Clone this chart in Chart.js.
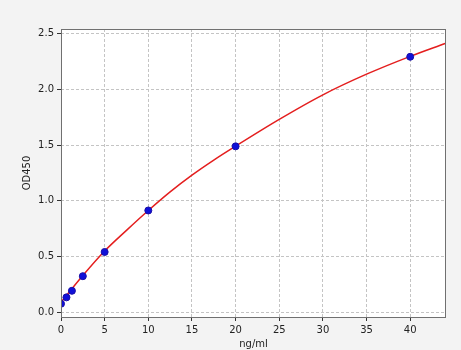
<!DOCTYPE html>
<html>
<head>
<meta charset="utf-8">
<script src="https://cdn.jsdelivr.net/npm/chart.js@4/dist/chart.umd.min.js"></script>
<style>
  html, body { margin: 0; padding: 0; background: #f3f3f3; }
  canvas { display: block; }
</style>
</head>
<body>
<canvas id="curveChart" width="461" height="350"></canvas>
<script>
// standard points (ng/ml vs OD450)
var concentrations = [0, 0.625, 1.25, 2.5, 5, 10, 20, 40];
var odValues = [0.077, 0.134, 0.193, 0.324, 0.541, 0.913, 1.488, 2.291];

// fitted curve
var curveX = [0, 2.5, 5, 7.5, 10, 12.5, 15, 17.5, 20, 25, 30, 35, 40, 44];
var curveY = [0.09, 0.33, 0.55, 0.735, 0.913, 1.08, 1.23, 1.365, 1.49, 1.73, 1.95, 2.135, 2.295, 2.41];

var xTicks = [0, 5, 10, 15, 20, 25, 30, 35, 40];
var yTicks = [0, 0.5, 1.0, 1.5, 2.0, 2.5];

function toPoints(xs, ys) {
    return xs.map(function (x, i) { return { x: x, y: ys[i] }; });
}

var frameAndBackground = {
    id: 'frameAndBackground',
    beforeDraw: function (chart) {
        var ctx = chart.ctx, a = chart.chartArea;
        ctx.save();
        ctx.fillStyle = '#f3f3f3';
        ctx.fillRect(0, 0, chart.width, chart.height);
        ctx.fillStyle = '#ffffff';
        ctx.fillRect(a.left, a.top, a.right - a.left, a.bottom - a.top);
        ctx.restore();
    },
    afterDraw: function (chart) {
        var ctx = chart.ctx, a = chart.chartArea;
        ctx.save();
        ctx.strokeStyle = '#707070';
        ctx.lineWidth = 1;
        ctx.strokeRect(a.left + 0.5, a.top + 0.5, a.right - a.left - 1, a.bottom - a.top);
        ctx.restore();
    }
};

var tickFont = { family: 'DejaVu Sans', size: 10 };

new Chart('curveChart', {
    type: 'scatter',
    data: {
        datasets: [
            {
                label: 'points',
                data: toPoints(concentrations, odValues),
                backgroundColor: '#1010d8',
                borderColor: '#1a0fa8',
                borderWidth: 1,
                pointRadius: 3.5,
                order: 0
            },
            {
                label: 'fit',
                data: toPoints(curveX, curveY),
                showLine: true,
                borderColor: '#e41e1e',
                borderWidth: 1.5,
                pointRadius: 0,
                cubicInterpolationMode: 'monotone',
                order: 1
            }
        ]
    },
    options: {
        responsive: false,
        animation: false,
        layout: { padding: { top: 29, right: 15, bottom: 0, left: 0 } },
        plugins: { legend: { display: false }, tooltip: { enabled: false } },
        scales: {
            x: {
                type: 'linear',
                min: 0,
                max: 44.1,
                afterFit: function (scale) { scale.height = 33; },
                afterBuildTicks: function (scale) {
                    scale.ticks = xTicks.map(function (v) { return { value: v }; });
                },
                ticks: { font: tickFont, color: '#222', padding: 3, includeBounds: false,
                    callback: function (v) { return v; } },
                grid: { color: '#c4c4c4', tickBorderDash: [], tickColor: '#333',
                    tickLength: 4, drawTicks: true },
                border: { display: false, dash: [3, 2] },
                title: { display: true, text: 'ng/ml', font: tickFont, color: '#222',
                    padding: { top: 0, bottom: 0 } }
            },
            y: {
                type: 'linear',
                min: -0.042,
                max: 2.54,
                afterFit: function (scale) { scale.width = 61; },
                afterBuildTicks: function (scale) {
                    scale.ticks = yTicks.map(function (v) { return { value: v }; });
                },
                ticks: { font: tickFont, color: '#222', padding: 3, includeBounds: false,
                    callback: function (v) { return v.toFixed(1); } },
                grid: { color: '#c4c4c4', tickBorderDash: [], tickColor: '#333',
                    tickLength: 4, drawTicks: true },
                border: { display: false, dash: [3, 2] },
                title: { display: true, text: 'OD450', font: tickFont, color: '#222',
                    padding: { top: 21, bottom: 0 } }
            }
        }
    },
    plugins: [frameAndBackground]
});
</script>
</body>
</html>
